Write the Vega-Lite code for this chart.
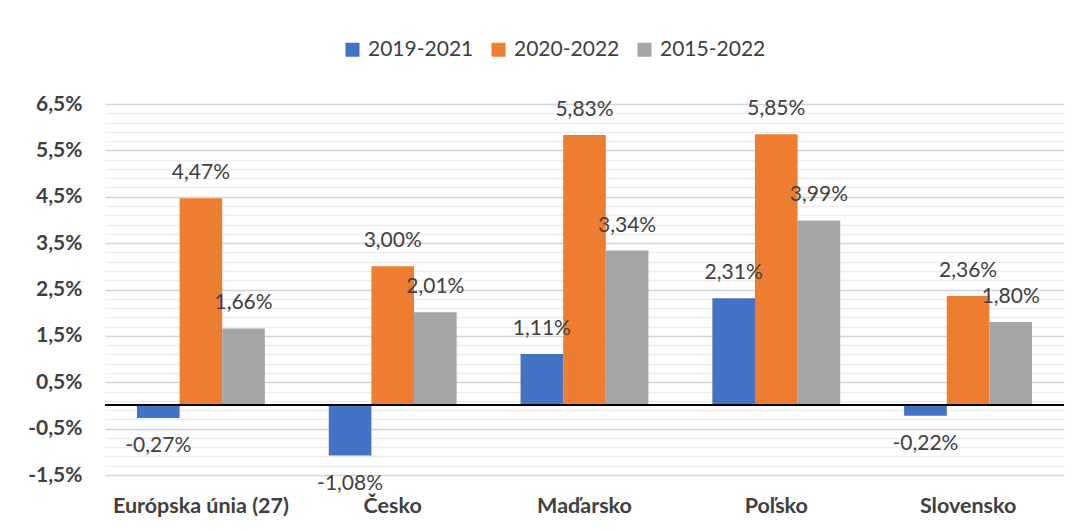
{
  "$schema": "https://vega.github.io/schema/vega-lite/v6.json",
  "autosize": "none",
  "width": 959,
  "height": 371,
  "padding": {"left": 105, "top": 104, "right": 16, "bottom": 56},
  "background": "white",
  "config": {
    "view": {"stroke": null},
    "font": "Lato",
    "locale": {
      "number": {"decimal": ",", "thousands": " ", "grouping": [3], "currency": ["", " €"], "minus": "-", "percent": "%"}
    }
  },
  "data": {
    "values": [
      {"krajina": "Európska únia (27)", "obdobie": "2019-2021", "hodnota": -0.0027},
      {"krajina": "Európska únia (27)", "obdobie": "2020-2022", "hodnota": 0.0447},
      {"krajina": "Európska únia (27)", "obdobie": "2015-2022", "hodnota": 0.0166},
      {"krajina": "Česko", "obdobie": "2019-2021", "hodnota": -0.0108},
      {"krajina": "Česko", "obdobie": "2020-2022", "hodnota": 0.0300},
      {"krajina": "Česko", "obdobie": "2015-2022", "hodnota": 0.0201},
      {"krajina": "Maďarsko", "obdobie": "2019-2021", "hodnota": 0.0111},
      {"krajina": "Maďarsko", "obdobie": "2020-2022", "hodnota": 0.0583},
      {"krajina": "Maďarsko", "obdobie": "2015-2022", "hodnota": 0.0334},
      {"krajina": "Poľsko", "obdobie": "2019-2021", "hodnota": 0.0231},
      {"krajina": "Poľsko", "obdobie": "2020-2022", "hodnota": 0.0585},
      {"krajina": "Poľsko", "obdobie": "2015-2022", "hodnota": 0.0399},
      {"krajina": "Slovensko", "obdobie": "2019-2021", "hodnota": -0.0022},
      {"krajina": "Slovensko", "obdobie": "2020-2022", "hodnota": 0.0236},
      {"krajina": "Slovensko", "obdobie": "2015-2022", "hodnota": 0.0180}
    ]
  },
  "encoding": {
    "x": {
      "field": "krajina",
      "type": "nominal",
      "sort": null,
      "scale": {"paddingInner": 0.3333, "paddingOuter": 0.1667},
      "axis": {
        "title": null,
        "domain": false,
        "ticks": false,
        "labelAngle": 0,
        "labelFont": "Lato",
        "labelFontSize": 21.5,
        "labelFontWeight": "bold",
        "labelColor": "#404040",
        "labelPadding": 20,
        "labelLimit": 300
      }
    },
    "xOffset": {
      "field": "obdobie",
      "type": "nominal",
      "sort": ["2019-2021", "2020-2022", "2015-2022"],
      "scale": {"paddingInner": 0, "paddingOuter": 0}
    },
    "y": {
      "field": "hodnota",
      "type": "quantitative",
      "scale": {"domain": [-0.015, 0.065], "nice": false, "zero": false},
      "axis": {
        "title": null,
        "domain": false,
        "ticks": false,
        "format": ".1%",
        "values": [-0.015, -0.013, -0.011, -0.009, -0.007, -0.005, -0.003, -0.001, 0.001, 0.003, 0.005, 0.007, 0.009, 0.011, 0.013, 0.015, 0.017, 0.019, 0.021, 0.023, 0.025, 0.027, 0.029, 0.031, 0.033, 0.035, 0.037, 0.039, 0.041, 0.043, 0.045, 0.047, 0.049, 0.051, 0.053, 0.055, 0.057, 0.059, 0.061, 0.063, 0.065],
        "labelExpr": "(round(datum.value * 1000) + 15) % 10 == 0 ? datum.label : ''",
        "labelFont": "Lato",
        "labelFontSize": 21,
        "labelFontWeight": "bold",
        "labelColor": "#404040",
        "labelPadding": 23,
        "grid": true,
        "gridColor": {
          "condition": {"test": "(round(datum.value * 1000) + 15) % 10 == 0", "value": "#d4d4d4"},
          "value": "#eeeeee"
        },
        "gridWidth": 1.6
      }
    }
  },
  "layer": [
    {
      "mark": {"type": "bar"},
      "encoding": {
        "color": {
          "field": "obdobie",
          "type": "nominal",
          "sort": ["2019-2021", "2020-2022", "2015-2022"],
          "scale": {"domain": ["2019-2021", "2020-2022", "2015-2022"], "range": ["#4472C4", "#ED7D31", "#A5A5A5"]},
          "legend": {
            "title": null,
            "orient": "none",
            "direction": "horizontal",
            "legendX": 237,
            "legendY": -65,
            "symbolType": "square",
            "symbolSize": 196,
            "symbolStrokeWidth": 0,
            "symbolOffset": 0,
            "labelFont": "Lato",
            "labelFontSize": 21,
            "labelColor": "#404040",
            "labelOffset": 5,
            "columnPadding": 14
          }
        }
      }
    },
    {
      "transform": [{"filter": "datum.hodnota >= 0"}],
      "mark": {"type": "text", "baseline": "middle", "dy": -25, "fontSize": 21, "color": "#404040", "font": "Lato"},
      "encoding": {
        "text": {"field": "hodnota", "type": "quantitative", "format": ".2%"}
      }
    },
    {
      "transform": [{"filter": "datum.hodnota < 0"}],
      "mark": {"type": "text", "baseline": "middle", "dy": 28, "fontSize": 21, "color": "#404040", "font": "Lato"},
      "encoding": {
        "text": {"field": "hodnota", "type": "quantitative", "format": ".2%"}
      }
    },
    {
      "mark": {"type": "rule", "color": "#000000", "strokeWidth": 1.3},
      "encoding": {"y": {"datum": 0}, "x": {"value": 0}, "x2": {"value": 959}, "xOffset": null}
    }
  ]
}
